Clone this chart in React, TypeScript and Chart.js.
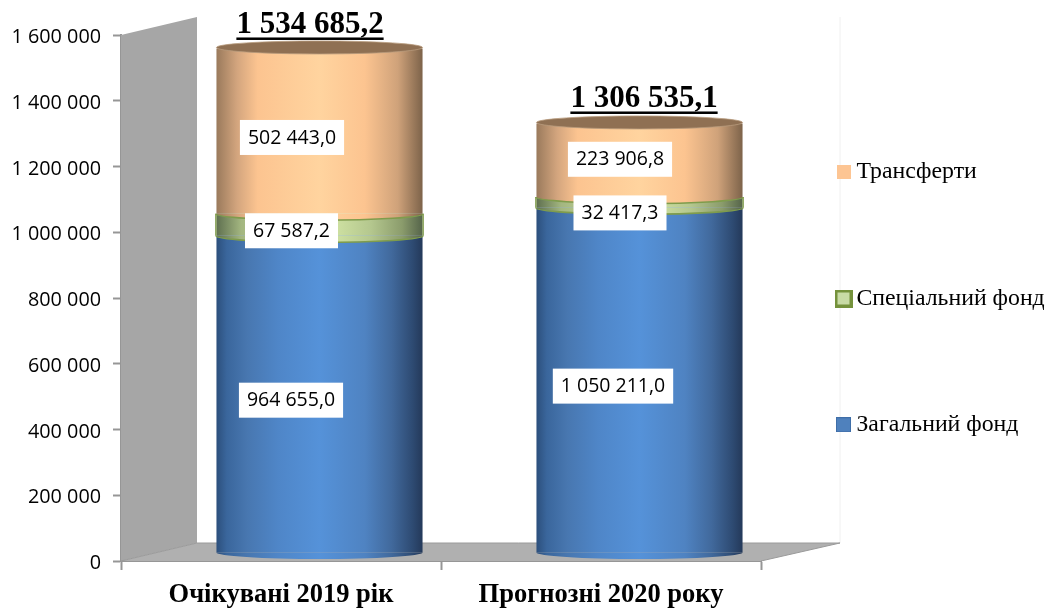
import React, { useEffect, useRef } from "react";
import { Chart, registerables } from "chart.js";

Chart.register(...registerables);

const categories = ["Очікувані 2019 рік", "Прогнозні 2020 року"];
const generalFund = [964655.0, 1050211.0];
const specialFund = [67587.2, 32417.3];
const transfers = [502443.0, 223906.8];
const totals = [1534685.2, 1306535.1];
const seriesNames = ["Загальний фонд", "Спеціальний фонд", "Трансферти"];

// label placement tweaks (px), per series then category
const labelNudge = [
  [[10, -2], [12, -2]],
  [[10.5, -2], [19, 2.5]],
  [[11, -1.6], [19, -9]],
];
const totalNudge = [[29, -23], [43, -24]];

const DEPTH_X = 76;
const DEPTH_Y = 18;
const BAR_DX = 38.5;
const BAR_DY = -8;
const RY = 6.5;

const gradients: [number, string][][] = [
  [[0, "#2c4f7c"], [0.05, "#3a669c"], [0.15, "#4877b0"], [0.3, "#4f86c8"], [0.5, "#5592d9"], [0.72, "#4f83c2"], [0.85, "#41699c"], [0.95, "#2e4b73"], [1, "#24395a"]],
  [[0, "#5f7050"], [0.12, "#a3b680"], [0.3, "#c3d696"], [0.55, "#d2e5a5"], [0.75, "#b4c78e"], [0.9, "#8b9c6c"], [1, "#55644a"]],
  [[0, "#9a7a5c"], [0.1, "#d3a57e"], [0.2, "#fcc490"], [0.5, "#ffd49f"], [0.72, "#fcc490"], [0.88, "#cfa27a"], [1, "#7d634a"]],
];
const flatColors = ["#4f81bd", "#9bbb59", "#fdc08e"];

function gradientFor(seriesIndex: number) {
  return (c: any) => {
    const chart = c.chart;
    if (c.dataIndex === undefined || !chart.chartArea) return flatColors[seriesIndex];
    const xs = chart.scales.x;
    const mid = xs.getPixelForValue(c.dataIndex);
    const half = ((xs.getPixelForValue(1) - xs.getPixelForValue(0)) * 0.644) / 2;
    const g = chart.ctx.createLinearGradient(mid - half, 0, mid + half, 0);
    gradients[seriesIndex].forEach(([p, col]) => g.addColorStop(p, col));
    return g;
  };
}

function swatch(fill: string, stroke: string, lw: number, size: number) {
  const c = document.createElement("canvas");
  c.width = size;
  c.height = size;
  const x = c.getContext("2d")!;
  x.fillStyle = stroke;
  x.fillRect(0, 0, size, size);
  x.fillStyle = fill;
  x.fillRect(lw, lw, size - 2 * lw, size - 2 * lw);
  return c;
}

const fmt = (v: number) => {
  const [i, d] = v.toFixed(1).split(".");
  return i.replace(/\B(?=(\d{3})+$)/g, " ") + "," + d;
};
const tickFmt = (v: number) => String(v).replace(/\B(?=(\d{3})+$)/g, " ");

const roomPlugin = {
  id: "room",
  beforeLayout(chart: any) {
    const lg = chart.legend;
    if (lg && !lg.__p) {
      lg.__p = true;
      const f = lg.fit;
      lg.fit = function () {
        f.call(this);
        this.width = 298;
      };
    }
    const ys = chart.scales.y;
    if (ys && !ys.__p) {
      ys.__p = true;
      const d = ys.drawLabels;
      ys.drawLabels = function (area: any) {
        const c = this.ctx;
        c.save();
        c.translate(0, 2.5);
        d.call(this, area);
        c.restore();
      };
    }
  },
  afterLayout(chart: any) {
    const lg = chart.legend;
    lg.left = 740;
    lg.right = 1059;
    lg.top = 36;
    lg.bottom = 561;
  },
  beforeDraw(chart: any) {
    const { ctx, chartArea: a } = chart;
    ctx.save();
    // back wall edge, behind the legend
    ctx.strokeStyle = "#f0f0f0";
    ctx.lineWidth = 1;
    ctx.beginPath();
    ctx.moveTo(a.right + DEPTH_X + 3, a.bottom - DEPTH_Y);
    ctx.lineTo(a.right + DEPTH_X + 3, a.top - DEPTH_Y);
    ctx.stroke();
    ctx.restore();
  },
  beforeDatasetsDraw(chart: any) {
    const { ctx, chartArea: a } = chart;
    ctx.save();
    // left wall
    ctx.fillStyle = "#a6a6a6";
    ctx.beginPath();
    ctx.moveTo(a.left, a.top);
    ctx.lineTo(a.left + DEPTH_X, a.top - DEPTH_Y);
    ctx.lineTo(a.left + DEPTH_X, a.bottom - DEPTH_Y);
    ctx.lineTo(a.left, a.bottom);
    ctx.closePath();
    ctx.fill();
    // floor
    ctx.fillStyle = "#b0b0b0";
    ctx.beginPath();
    ctx.moveTo(a.left, a.bottom);
    ctx.lineTo(a.left + DEPTH_X, a.bottom - DEPTH_Y);
    ctx.lineTo(a.right + DEPTH_X + 3, a.bottom - DEPTH_Y);
    ctx.lineTo(a.right, a.bottom);
    ctx.closePath();
    ctx.fill();
    ctx.strokeStyle = "#9a9a9a";
    ctx.lineWidth = 1;
    ctx.beginPath();
    ctx.moveTo(a.left + DEPTH_X, a.bottom - DEPTH_Y);
    ctx.lineTo(a.right + DEPTH_X + 3, a.bottom - DEPTH_Y);
    ctx.lineTo(a.right, a.bottom);
    ctx.moveTo(a.left, a.bottom);
    ctx.lineTo(a.left + DEPTH_X, a.bottom - DEPTH_Y);
    ctx.stroke();
    ctx.restore();
  },
  beforeDatasetDraw(chart: any) {
    const { ctx } = chart;
    ctx.save();
    ctx.translate(BAR_DX, BAR_DY);
  },
  afterDatasetDraw(chart: any) {
    chart.ctx.restore();
  },
  afterDatasetsDraw(chart: any) {
    const { ctx } = chart;
    const ringColor = "#7f9c4c";
    // rims, bottom of the stack first
    ctx.save();
    ctx.translate(BAR_DX, BAR_DY);
    chart.data.datasets.forEach((_: any, idx: number) => {
      chart.getDatasetMeta(idx).data.forEach((el: any) => {
        const p = el.getProps(["x", "y", "base", "width"], true);
        const rx = p.width / 2;
        ctx.fillStyle = el.options.backgroundColor;
        ctx.beginPath();
        ctx.ellipse(p.x, p.base, rx, RY, 0, 0, Math.PI);
        ctx.closePath();
        ctx.fill();
        if (idx === 1 || idx === 2) {
          ctx.strokeStyle = ringColor;
          ctx.lineWidth = 1.6;
          ctx.beginPath();
          ctx.ellipse(p.x, p.base, rx + 0.6, RY, 0, 0, Math.PI);
          ctx.stroke();
        }
        if (idx === 1) {
          ctx.strokeStyle = ringColor;
          ctx.lineWidth = 1.4;
          ctx.beginPath();
          ctx.moveTo(p.x - rx - 0.6, p.base);
          ctx.lineTo(p.x - rx - 0.6, p.y);
          ctx.moveTo(p.x + rx + 0.6, p.base);
          ctx.lineTo(p.x + rx + 0.6, p.y);
          ctx.stroke();
        }
        if (idx === 2) {
          ctx.fillStyle = "#8f7053";
          ctx.strokeStyle = "#b89a7c";
          ctx.lineWidth = 0.8;
          ctx.beginPath();
          ctx.ellipse(p.x, p.y - 1, rx, RY, 0, 0, Math.PI * 2);
          ctx.fill();
          ctx.stroke();
        }
      });
    });
    ctx.restore();

    ctx.save();
    ctx.textBaseline = "middle";
    ctx.textAlign = "center";
    ctx.font = '19.5px "Open Sans"';
    chart.data.datasets.forEach((ds: any, i: number) => {
      const meta = chart.getDatasetMeta(i);
      meta.data.forEach((el: any, j: number) => {
        const p = el.getProps(["x", "y", "base"], true);
        const [dx, dy] = labelNudge[i][j];
        const cx = p.x + dx;
        const cy = (p.y + p.base) / 2 + dy;
        const t = fmt(ds.data[j]);
        const w = ctx.measureText(t).width + 16;
        ctx.fillStyle = "#ffffff";
        ctx.fillRect(cx - w / 2, cy - 17.5, w, 35);
        ctx.fillStyle = "#000000";
        ctx.fillText(t, cx, cy + 0.5);
      });
    });
    // totals
    ctx.font = 'bold 31px "Liberation Serif"';
    ctx.textBaseline = "alphabetic";
    totals.forEach((v, j) => {
      const x = chart.scales.x.getPixelForValue(j) + totalNudge[j][0];
      const y = chart.scales.y.getPixelForValue(v) + totalNudge[j][1];
      const t = fmt(v);
      const w = ctx.measureText(t).width;
      ctx.fillStyle = "#000000";
      ctx.fillText(t, x, y);
      ctx.fillRect(x - w / 2, y + 4, w, 2.5);
    });
    ctx.restore();
  },
};

export default function App() {
  const ref = useRef<HTMLCanvasElement | null>(null);
  useEffect(() => {
    const swatches = [
      swatch("#4f81bd", "#3f6ea8", 1, 15),
      swatch("#c8dba5", "#75923c", 3, 18),
      swatch("#fdc593", "#fdc593", 0, 14),
    ];
    const common = { categoryPercentage: 1, barPercentage: 0.644, clip: false, borderWidth: 0 };
    const chart = new Chart(ref.current!, {
      type: "bar",
      data: {
        labels: categories,
        datasets: [
          { label: seriesNames[0], data: generalFund, backgroundColor: gradientFor(0), ...common },
          { label: seriesNames[1], data: specialFund, backgroundColor: gradientFor(1), ...common },
          { label: seriesNames[2], data: transfers, backgroundColor: gradientFor(2), ...common },
        ],
      } as any,
      options: {
        responsive: false,
        animation: false,
        devicePixelRatio: 1,
        layout: { padding: { top: 35, left: 0, right: 0, bottom: 0 } },
        scales: {
          x: {
            stacked: true,
            afterFit: (s: any) => { s.height = 52; },
            grid: { drawOnChartArea: false, tickLength: 9, tickColor: "#969696", tickWidth: 2 },
            border: { color: "#969696", width: 2 },
            ticks: { color: "#000", padding: 9, maxRotation: 0, font: { family: "Liberation Serif", size: 26.5, weight: "bold" } },
          },
          y: {
            stacked: true,
            min: 0,
            max: 1600000,
            afterFit: (s: any) => { s.width = 121; },
            grid: { drawOnChartArea: false, tickLength: 8, tickColor: "#969696", tickWidth: 2 },
            border: { color: "#969696", width: 2 },
            ticks: {
              stepSize: 200000,
              color: "#000",
              padding: 12,
              font: { family: "Open Sans", size: 19.8 },
              callback: (v: any) => tickFmt(Number(v)),
            },
          },
        },
        plugins: {
          tooltip: { enabled: false },
          legend: {
            position: "right",
            align: "center",
            labels: {
              usePointStyle: true,
              pointStyleWidth: 2,
              padding: 102.5,
              color: "#000",
              font: { family: "Liberation Serif", size: 23.8 },
              generateLabels: () =>
                [2, 1, 0].map((i) => ({
                  text: seriesNames[i],
                  fontColor: "#000",
                  pointStyle: swatches[i],
                  fillStyle: flatColors[i],
                  strokeStyle: flatColors[i],
                  lineWidth: 0,
                  hidden: false,
                  datasetIndex: i,
                })),
            },
          },
        },
      } as any,
      plugins: [roomPlugin],
    });
    return () => chart.destroy();
  }, []);
  return (
    <div style={{ position: "fixed", left: 0, top: 0, width: 1059, height: 613, background: "#fff" }}>
      <canvas ref={ref} width={1059} height={613} style={{ display: "block" }} />
    </div>
  );
}
